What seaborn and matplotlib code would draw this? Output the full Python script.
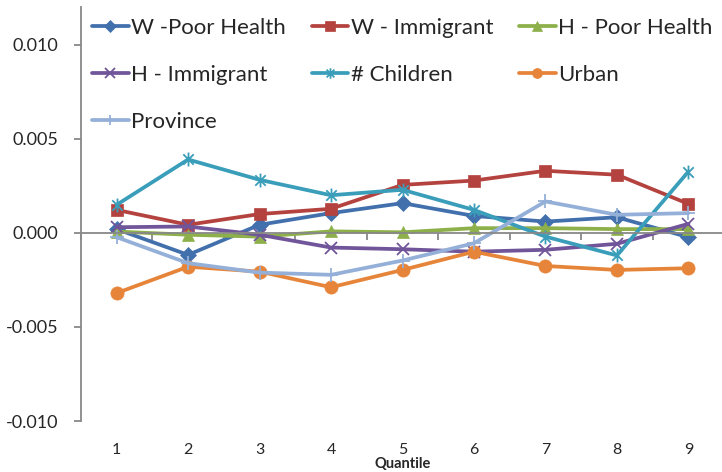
import numpy as np
import pandas as pd
import matplotlib
matplotlib.use("Agg")
import matplotlib.pyplot as plt
from matplotlib.path import Path
from matplotlib.ticker import FuncFormatter, FixedLocator
import seaborn as sns

quantiles = [1, 2, 3, 4, 5, 6, 7, 8, 9]

w_poor_health = [0.00020, -0.00117, 0.00043, 0.00105, 0.00158, 0.00090, 0.00060, 0.00083, -0.00023]
w_immigrant = [0.00122, 0.00043, 0.00100, 0.00128, 0.00255, 0.00278, 0.00330, 0.00309, 0.00154]
h_poor_health = [0.00007, -0.00010, -0.00020, 0.00008, 0.00003, 0.00025, 0.00025, 0.00020, 0.00020]
h_immigrant = [0.00030, 0.00034, -0.00010, -0.00078, -0.00087, -0.00100, -0.00090, -0.00058, 0.00048]
n_children = [0.00149, 0.00390, 0.00282, 0.00200, 0.00229, 0.00122, -0.00020, -0.00120, 0.00326]
urban = [-0.00320, -0.00180, -0.00206, -0.00289, -0.00197, -0.00100, -0.00176, -0.00197, -0.00188]
province = [-0.00023, -0.00161, -0.00211, -0.00223, -0.00147, -0.00055, 0.00167, 0.00096, 0.00105]

series_names = ["W -Poor Health", "W - Immigrant", "H - Poor Health",
                "H - Immigrant", "# Children", "Urban", "Province"]
series_values = [w_poor_health, w_immigrant, h_poor_health,
                 h_immigrant, n_children, urban, province]

colors = ["#4170AD", "#B4433F", "#8DB04A", "#71559A", "#3A9EBA", "#E6853A", "#94B0D8"]

# asterisk: vertical bar plus a diagonal cross
asterisk = Path(
    [(0, -1), (0, 1), (-0.75, -0.75), (0.75, 0.75), (-0.75, 0.75), (0.75, -0.75)],
    [Path.MOVETO, Path.LINETO, Path.MOVETO, Path.LINETO, Path.MOVETO, Path.LINETO],
)
markers = ["D", "s", "^", "x", asterisk, "o", "+"]
marker_sizes = [8, 9, 9, 9, 10, 9.5, 10]
filled = [True, True, True, False, False, True, False]

sns.set_style("white")
plt.rcParams["font.family"] = ["Lato", "DejaVu Sans"]

fig = plt.figure(figsize=(7.22, 4.72), dpi=100)
ax = fig.add_axes([0.112, 0.108, 0.891, 0.877])

handles = []
for name, vals, col, mk, ms, fl in zip(series_names, series_values, colors,
                                       markers, marker_sizes, filled):
    df = pd.DataFrame({"Quantile": quantiles, "value": vals})
    sns.lineplot(data=df, x="Quantile", y="value", ax=ax, color=col,
                 linewidth=2.7, marker=mk, markersize=ms,
                 markerfacecolor=col, markeredgecolor=col,
                 markeredgewidth=(0.5 if fl else 1.3), label=name)
    handles.append(ax.lines[-1])

ax.set_xlim(0.5, 9.5)
ax.set_ylim(-0.010, 0.012)

grey = "#888888"
for s in ["top", "right"]:
    ax.spines[s].set_visible(False)
ax.spines["left"].set_color(grey)
ax.spines["left"].set_linewidth(1.3)
ax.spines["bottom"].set_position(("data", 0))
ax.spines["bottom"].set_color(grey)
ax.spines["bottom"].set_linewidth(1.3)

# tick marks between categories on the zero line
ax.xaxis.set_major_locator(FixedLocator(np.arange(0.5, 10, 1.0)))
ax.set_xticklabels([])
ax.tick_params(axis="x", which="major", direction="out", length=5,
               width=1.3, color=grey, bottom=True)
ax.set_xlabel("")

ax.yaxis.set_major_locator(FixedLocator([-0.010, -0.005, 0.0, 0.005, 0.010]))
ax.yaxis.set_major_formatter(FuncFormatter(lambda v, p: f"{round(v, 4):.3f}".replace("-0.000", "0.000")))
ax.tick_params(axis="y", direction="out", length=5, width=1.3, color=grey,
               left=True, labelsize=13, pad=11)
ax.set_ylabel("")

# category labels along the bottom of the plot area
sec = ax.secondary_xaxis("bottom")
sec.set_xticks(quantiles)
sec.set_xticklabels([str(q) for q in quantiles])
sec.tick_params(axis="x", length=0, labelsize=11.5, pad=16)
sec.spines["bottom"].set_visible(False)
sec.set_xlabel("Quantile", fontsize=10.5, fontweight="bold", labelpad=0)

order = [0, 3, 6, 1, 4, 2, 5]
leg = ax.legend([handles[i] for i in order], [series_names[i] for i in order],
                ncol=3, loc="upper left", bbox_to_anchor=(0.0, 1.0),
                frameon=False, fontsize=16, handlelength=1.65,
                handletextpad=0.12, columnspacing=1.15, labelspacing=1.2,
                markerscale=0.75, borderaxespad=0.1)

fig.savefig("out.png", dpi=100, facecolor="white")
